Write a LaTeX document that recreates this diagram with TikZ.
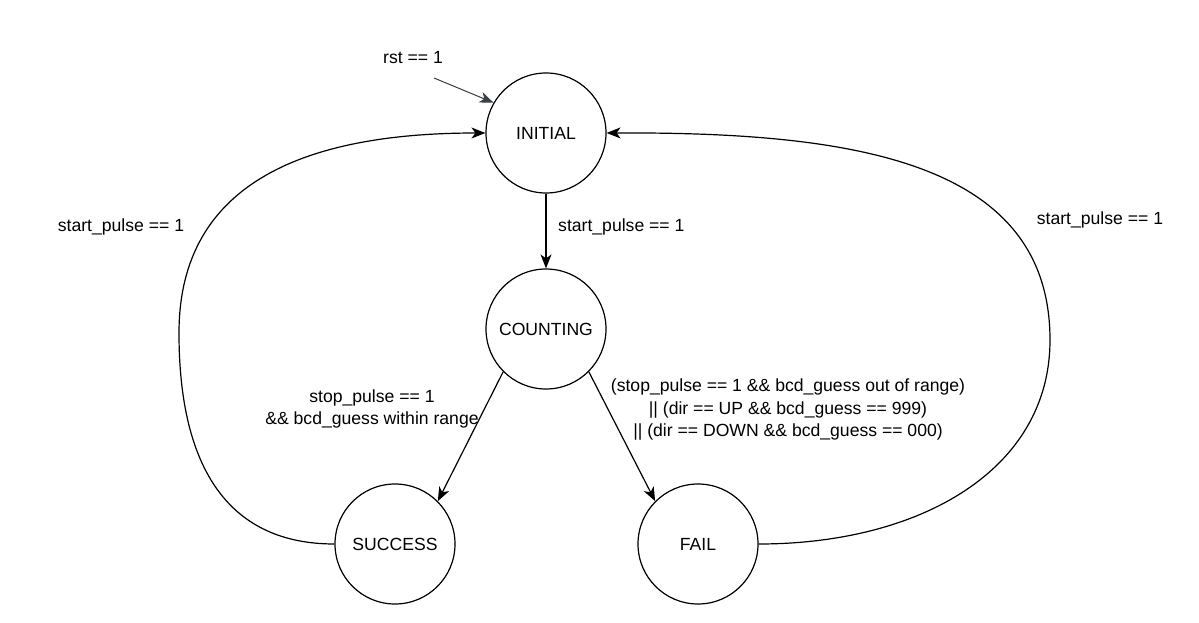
\documentclass[tikz,border=0pt]{standalone}
\usepackage{fontspec}
\setmainfont{Liberation Sans}
\usetikzlibrary{arrows.meta}
\definecolor{rstcol}{HTML}{3B4046}
\tikzset{
  state/.style={circle, draw=black, line width=1.2pt, minimum size=120pt, inner sep=0pt, font=\fontsize{17.6}{22}\selectfont},
  lbl/.style={font=\fontsize{17.6}{22.5}\selectfont, align=center, inner sep=0pt},
  conn/.style={draw=black, line width=1.2pt, -{Stealth[length=14pt,width=11pt,inset=4pt]}},
}
\begin{document}
\begin{tikzpicture}[x=1pt,y=-1pt]
\useasboundingbox (0,0) rectangle (1199,623);
\node[state] (init) at (546,133) {INITIAL};
\node[state] (count) at (546,329) {COUNTING};
\node[state] (succ) at (395,544) {SUCCESS};
\node[state] (fail) at (698,544) {FAIL};
\coordinate (rstsrc) at (434,78);
\node[lbl] (rstlbl) at (413,58) {rst == 1};
\draw[conn, draw=rstcol, fill=rstcol, line width=1pt] (rstsrc) -- (init.150);
\draw[conn] (init) -- (count);
\node[lbl, anchor=west] (l1) at (558,227) {start\_pulse == 1};
\draw[conn] (count.225) -- (succ.45);
\draw[conn] (count.-45) -- (fail.135);
\node[lbl] (l2) at (372,409) {stop\_pulse == 1\\\&\& bcd\_guess within range};
\node[lbl] (l3) at (788,409.5) {(stop\_pulse == 1 \&\& bcd\_guess out of range)\\|| (dir == UP \&\& bcd\_guess == 999)\\|| (dir == DOWN \&\& bcd\_guess == 000)};
\coordinate (lmid) at (179,333);
\draw[conn] (succ.west) .. controls (230,544) and (179,470) .. (lmid) .. controls (179,180) and (310,133) .. (init.west);
\node[lbl] (l4) at (121,227) {start\_pulse == 1};
\coordinate (rmid) at (1050,340);
\draw[conn] (fail.east) .. controls (920,544) and (1050,470) .. (rmid) .. controls (1050,160) and (850,132) .. (init.east);
\node[lbl] (l5) at (1100,220) {start\_pulse == 1};
\end{tikzpicture}
\end{document}
